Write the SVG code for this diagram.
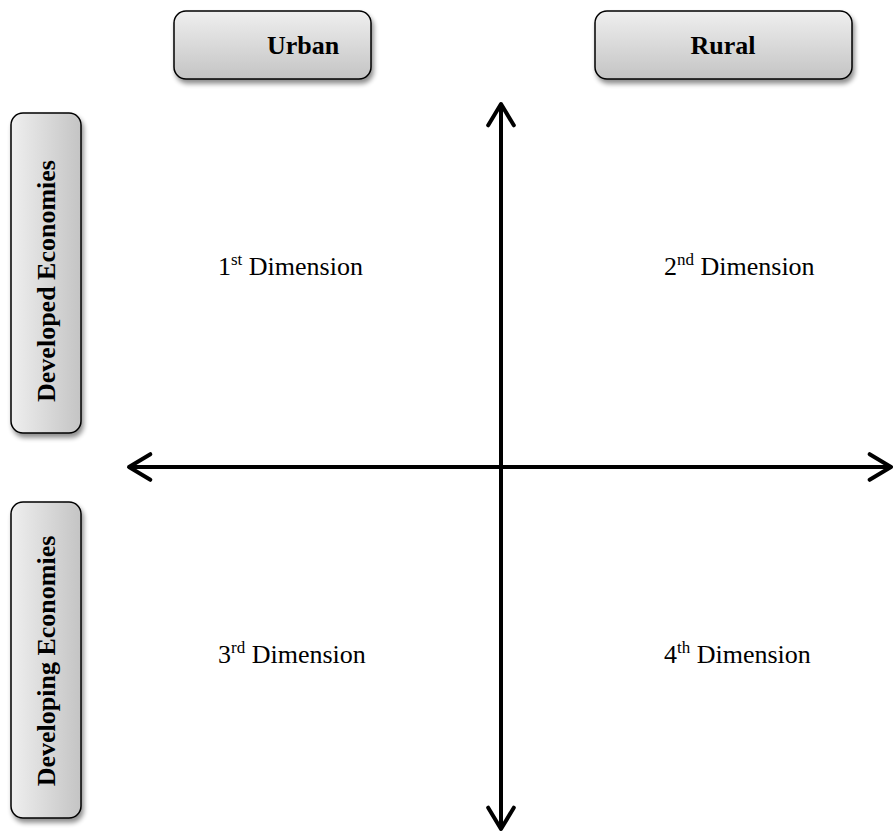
<svg xmlns="http://www.w3.org/2000/svg" width="893" height="832" viewBox="0 0 893 832">
<defs>
<linearGradient id="gv" x1="0" y1="0" x2="0" y2="1">
<stop offset="0" stop-color="#efefef"/><stop offset="1" stop-color="#c4c4c4"/>
</linearGradient>
<linearGradient id="gh" x1="0" y1="0" x2="1" y2="0">
<stop offset="0" stop-color="#efefef"/><stop offset="1" stop-color="#c4c4c4"/>
</linearGradient>
<filter id="sh" x="-20%" y="-20%" width="140%" height="140%">
<feGaussianBlur in="SourceAlpha" stdDeviation="2.5"/>
<feOffset dx="2" dy="4" result="b"/>
<feComponentTransfer><feFuncA type="linear" slope="0.45"/></feComponentTransfer>
<feMerge><feMergeNode/><feMergeNode in="SourceGraphic"/></feMerge>
</filter>
<marker id="ah" viewBox="0 0 12 12" refX="10" refY="6" markerWidth="8" markerHeight="8" markerUnits="strokeWidth" orient="auto-start-reverse">
<polyline points="2,1.2 10,6 2,10.8" fill="none" stroke="#000" stroke-width="1.5" stroke-linecap="round" stroke-linejoin="round"/>
</marker>
</defs>
<style>
.box{stroke:#000;stroke-width:1.5;filter:url(#sh)}
.hd{font-family:"Liberation Serif",serif;font-weight:bold;font-size:26px;fill:#000;text-anchor:middle}
.lb{font-family:"Liberation Serif",serif;font-size:26px;fill:#000}
.ax{stroke:#000;stroke-width:4;fill:none;marker-start:url(#ah);marker-end:url(#ah)}
</style>
<g id="connectors">
<line class="ax" x1="501" y1="104" x2="501" y2="829"/>
<line class="ax" x1="129" y1="467" x2="891" y2="467"/>
</g>
<g id="urban">
<rect class="box" x="174" y="11" width="197" height="68" rx="12" fill="url(#gv)"/>
<text class="hd" x="303" y="54">Urban</text>
</g>
<g id="rural">
<rect class="box" x="595" y="11" width="257" height="68" rx="12" fill="url(#gv)"/>
<text class="hd" x="723" y="54">Rural</text>
</g>
<g id="developed">
<rect class="box" x="11" y="113" width="70" height="320" rx="12" fill="url(#gh)"/>
<text class="hd" transform="translate(55,281) rotate(-90)">Developed Economies</text>
</g>
<g id="developing">
<rect class="box" x="11" y="502" width="70" height="316" rx="12" fill="url(#gh)"/>
<text class="hd" transform="translate(55,661) rotate(-90)">Developing Economies</text>
</g>
<g id="d1"><text class="lb" x="218" y="275">1<tspan font-size="17" dy="-10">st</tspan><tspan dy="10"> Dimension</tspan></text></g>
<g id="d2"><text class="lb" x="664" y="275">2<tspan font-size="17" dy="-10">nd</tspan><tspan dy="10"> Dimension</tspan></text></g>
<g id="d3"><text class="lb" x="218" y="663">3<tspan font-size="17" dy="-10">rd</tspan><tspan dy="10"> Dimension</tspan></text></g>
<g id="d4"><text class="lb" x="664" y="663">4<tspan font-size="17" dy="-10">th</tspan><tspan dy="10"> Dimension</tspan></text></g>
</svg>
